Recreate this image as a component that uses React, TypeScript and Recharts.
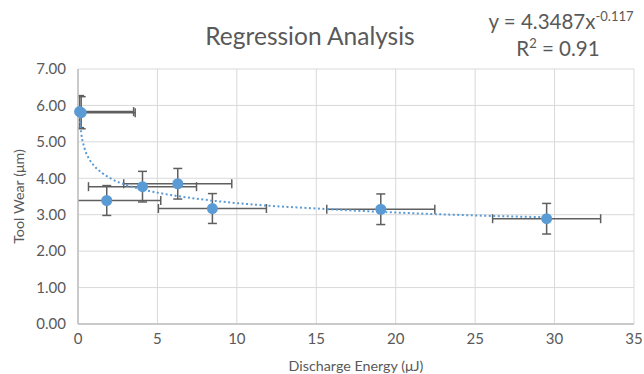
import React from 'react';
import * as R from 'recharts';
import { ComposedChart, Scatter, Line, XAxis, YAxis, CartesianGrid, ErrorBar, Label } from 'recharts';

const energy = [0.1, 0.2, 1.81, 4.06, 6.28, 8.46, 19.06, 29.5];
const wear = [5.83, 5.8, 3.39, 3.77, 3.85, 3.17, 3.15, 2.89];
const energyErr = [3.4, 3.4, 3.4, 3.4, 3.4, 3.4, 3.4, 3.4];
const wearErr = [0.44, 0.44, 0.41, 0.42, 0.42, 0.41, 0.42, 0.42];

const trendEnergy = [0.1, 0.2, 0.4, 0.7, 1, 1.5, 2, 3, 4, 6, 8, 11, 15, 20, 25, 29.5];
const trendWear = [5.69, 5.25, 4.84, 4.53, 4.35, 4.15, 4.01, 3.82, 3.7, 3.53, 3.41, 3.28, 3.17, 3.06, 2.98, 2.93];

const xTicks = [0, 5, 10, 15, 20, 25, 30, 35];
const yTicks = [0, 1, 2, 3, 4, 5, 6, 7];

const points = energy.map((x, i) => ({ x, y: wear[i], ex: energyErr[i], ey: wearErr[i] }));
const trend = trendEnergy.map((x, i) => ({ x, y: trendWear[i] }));

const FONT = 'Lato, "Open Sans", sans-serif';
const GREY = '#595959';
const BLUE = '#5B9BD5';

const usePlotAreaSafe: () => any = (R as any).usePlotArea || (() => null);

function PlotClip() {
  const area = usePlotAreaSafe();
  if (!area) return null;
  return (
    <defs>
      <clipPath id="plot-clip-area">
        <rect x={area.x} y={area.y} width={area.width} height={area.height} />
      </clipPath>
    </defs>
  );
}

export default function App() {
  return (
    <div style={{ position: 'absolute', left: 0, top: 0, width: 644, height: 374, background: '#fff', fontFamily: FONT }}>
      <style>{'[class*="recharts-errorBar"] { clip-path: url(#plot-clip-area); }'}</style>
      <ComposedChart width={644} height={374} margin={{ top: 69, right: 10, bottom: 0, left: 0 }}>
        <PlotClip />
        <CartesianGrid stroke="#d9d9d9" strokeWidth={1} />
        <XAxis
          type="number"
          dataKey="x"
          domain={[0, 35]}
          ticks={xTicks}
          allowDataOverflow
          tickLine={false}
          axisLine={{ stroke: '#bfbfbf', strokeWidth: 1.5 }}
          tick={{ fill: GREY, fontSize: 15, fontFamily: FONT }}
          tickMargin={3}
          height={50}
        >
          <Label value="Discharge Energy (μJ)" position="insideBottom" offset={3} style={{ fill: GREY, fontSize: 14.3, fontFamily: FONT }} />
        </XAxis>
        <YAxis
          type="number"
          domain={[0, 7]}
          ticks={yTicks}
          tickFormatter={(v: number) => v.toFixed(2)}
          tickLine={false}
          axisLine={{ stroke: '#bfbfbf', strokeWidth: 1.5 }}
          tick={{ fill: GREY, fontSize: 15, fontFamily: FONT }}
          tickMargin={6}
          width={78}
        >
          <Label value="Tool Wear (μm)" angle={-90} position="insideLeft" offset={19} style={{ fill: GREY, fontSize: 14.3, fontFamily: FONT, textAnchor: 'middle' }} />
        </YAxis>
        <Scatter data={points} dataKey="y" shape={() => <g />} isAnimationActive={false} legendType="none">
          <ErrorBar dataKey="ex" direction="x" width={4.5} stroke="#5f5f5f" strokeWidth={1.5} />
          <ErrorBar dataKey="ey" direction="y" width={4.5} stroke="#5f5f5f" strokeWidth={1.5} />
        </Scatter>
        <Line
          data={trend}
          dataKey="y"
          type="monotone"
          stroke={BLUE}
          strokeWidth={2}
          strokeDasharray="2 2.5"
          dot={false}
          activeDot={false}
          isAnimationActive={false}
          legendType="none"
        />
        <Line
          data={points}
          dataKey="y"
          stroke="none"
          dot={{ r: 5.5, fill: BLUE, stroke: BLUE, strokeWidth: 0, clipDot: false }}
          activeDot={false}
          isAnimationActive={false}
          legendType="none"
        />
      </ComposedChart>
      <svg width={644} height={374} style={{ position: 'absolute', left: 0, top: 0, pointerEvents: 'none' }}>
        <text x={310} y={45} textAnchor="middle" fontSize={24.5} fill={GREY} fontFamily={FONT}>Regression Analysis</text>
        <text x={561} y={29} textAnchor="middle" fontSize={20.5} fill={GREY} fontFamily={FONT}>
          y = 4.3487x<tspan dy={-8} fontSize={13}>-0.117</tspan>
        </text>
        <text x={558} y={56} textAnchor="middle" fontSize={20.5} fill={GREY} fontFamily={FONT}>
          R<tspan dy={-8} fontSize={13}>2</tspan><tspan dy={8}> = 0.91</tspan>
        </text>
      </svg>
    </div>
  );
}
